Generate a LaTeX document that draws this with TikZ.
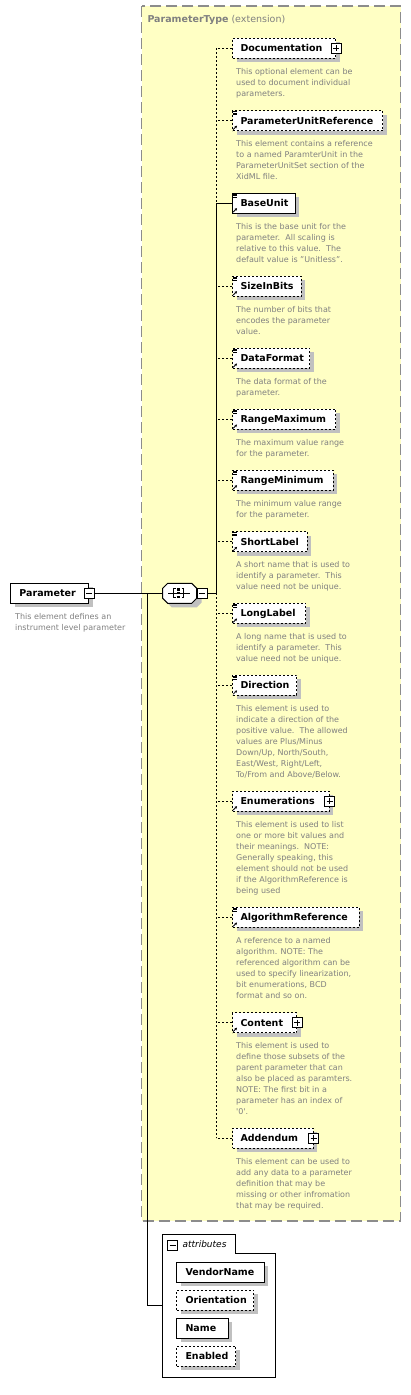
\documentclass[tikz,border=0pt]{standalone}
\usepackage{fontspec}
\setmainfont{DejaVu Sans}
\usetikzlibrary{shadows,arrows.meta}
\definecolor{ybg}{HTML}{FFFFC4}
\definecolor{shgray}{HTML}{C0C0C0}
\definecolor{txgray}{HTML}{808080}
\definecolor{bordergray}{HTML}{8C8C8C}
\newcommand\elfont{\fontsize{9.5}{11}\selectfont\bfseries}
\newcommand\descfont{\fontsize{8}{11}\selectfont}
\newcommand\tylines[1]{\draw[line width=0.6pt] ([shift={(1,1.4)}]#1.north west) -- ++(4,0) ([shift={(1,2.9)}]#1.north west) -- ++(4,0) ([shift={(1,4.4)}]#1.north west) -- ++(4,0);}
\newcommand\tyarrow[1]{\draw[line width=0.8pt,-{Stealth[length=2.4pt,width=2.6pt]}] ([shift={(1.2,-1.5)}]#1.south west) -- ++(3.8,-3.8);}
\tikzset{
 elbase/.style={draw=black, fill=white, line width=1pt, anchor=west, minimum height=20pt, inner xsep=8pt, inner ysep=0pt, text height=7pt, text depth=0pt, font=\elfont, align=left, general shadow={fill=shgray, shadow xshift=4pt, shadow yshift=-4pt}},
 reqel/.style={elbase},
 optel/.style={elbase, dash pattern=on 2pt off 2pt},
 desc/.style={anchor=north west, inner sep=0pt, align=left, text=txgray, font=\descfont},
 pmbox/.style={draw=black, fill=white, line width=0.8pt, minimum width=10pt, minimum height=10pt, inner sep=0pt, rectangle},
 plusicon/.style={pmbox, path picture={\draw[line width=0.8pt] ([yshift=-2pt]path picture bounding box.north) -- ([yshift=2pt]path picture bounding box.south) ([xshift=2pt]path picture bounding box.west) -- ([xshift=-2pt]path picture bounding box.east);}},
 minusicon/.style={pmbox, path picture={\draw[line width=0.8pt] ([xshift=2pt]path picture bounding box.west) -- ([xshift=-2pt]path picture bounding box.east);}},
 conn/.style={draw=black, line width=1pt},
 optconn/.style={conn, dash pattern=on 2pt off 2pt},
}
\begin{document}
\begin{tikzpicture}[x=1pt,y=-1pt]
\useasboundingbox (0,0) rectangle (411,1395);
% extension background
\draw[fill=ybg, draw=bordergray, line width=1.3pt, dash pattern=on 11pt off 5pt] (141.7,6) rectangle (400.5,1221);
\node[anchor=base west, inner sep=0pt, text=txgray, font=\fontsize{9.5}{11}\selectfont] (title) at (147.3,22.5) {\textbf{ParameterType} (extension)};

% Parameter element
\node[reqel, inner xsep=9pt, text width=60.3pt] (parm) at (10,593.3) {Parameter};
\node[minusicon] (parmM) at (parm.east) {};
\node[desc] (parmD) at ([shift={(5,9.5)}]parm.south west) {This element defines an\\instrument level parameter};

% sequence compositor
\node[minimum width=34pt, minimum height=20pt, inner sep=0pt] (seq) at (179.7,593.3) {};
\fill[shgray] (171.7,587.3) -- (196.7,587.3) -- (201.7,592.3) -- (201.7,602.3) -- (196.7,607.3) -- (171.7,607.3) -- (166.7,602.3) -- (166.7,592.3) -- cycle;
\draw[fill=white, line width=1pt] (167.7,583.3) -- (191.7,583.3) -- (196.7,588.3) -- (196.7,598.3) -- (191.7,603.3) -- (167.7,603.3) -- (162.7,598.3) -- (162.7,588.3) -- cycle;
\draw[line width=1pt] (168.3,593.3) -- (190,593.3);
\draw[line width=1pt] (175.5,588.8) -- (173.3,588.8) -- (173.3,597.8) -- (175.5,597.8);
\draw[line width=1pt] (181.5,588.8) -- (183.7,588.8) -- (183.7,597.8) -- (181.5,597.8);
\fill (177.4,588.4) rectangle (179.6,590.6);
\fill (177.4,592.2) rectangle (179.6,594.4);
\fill (177.4,596.0) rectangle (179.6,598.2);
\node[minusicon, anchor=west] (seqM) at (seq.east) {};
\coordinate (sp) at (216,593.3);
\coordinate (br) at (147,593.3);

% child elements
\node[optel, text width=87pt] (doc) at (232,48) {Documentation};
\node[plusicon] (docP) at (doc.east) {};
\node[desc] (docD) at ([shift={(4,9.5)}]doc.south west) {This optional element can be\\used to document individual\\parameters.};

\node[optel, text width=134pt] (pur) at (232,120.5) {ParameterUnitReference};
\tylines{pur}\tyarrow{pur}
\node[desc] (purD) at ([shift={(4,9.5)}]pur.south west) {This element contains a reference\\to a named ParamterUnit in the\\ParameterUnitSet section of the\\XidML file.};

\node[reqel, text width=46.7pt] (bu) at (232,203) {BaseUnit};
\tylines{bu}\tyarrow{bu}
\node[desc] (buD) at ([shift={(4,9.5)}]bu.south west) {This is the base unit for the\\parameter.\ \ All scaling is\\relative to this value.\ \ The\\default value is "Unitless".};

\node[optel, text width=52.7pt] (sib) at (232,286) {SizeInBits};
\tylines{sib}\tyarrow{sib}
\node[desc] (sibD) at ([shift={(4,9.5)}]sib.south west) {The number of bits that\\encodes the parameter\\value.};

\node[optel, text width=61pt] (df) at (232,358.3) {DataFormat};
\tylines{df}\tyarrow{df}
\node[desc] (dfD) at ([shift={(4,9.5)}]df.south west) {The data format of the\\parameter.};

\node[optel, text width=87pt] (rmax) at (232,419.3) {RangeMaximum};
\tylines{rmax}\tyarrow{rmax}
\node[desc] (rmaxD) at ([shift={(4,9.5)}]rmax.south west) {The maximum value range\\for the parameter.};

\node[optel, text width=84.7pt] (rmin) at (232,480) {RangeMinimum};
\tylines{rmin}\tyarrow{rmin}
\node[desc] (rminD) at ([shift={(4,9.5)}]rmin.south west) {The minimum value range\\for the parameter.};

\node[optel, text width=58.7pt] (sl) at (232,541.7) {ShortLabel};
\tylines{sl}\tyarrow{sl}
\node[desc] (slD) at ([shift={(4,9.5)}]sl.south west) {A short name that is used to\\identify a parameter.\ \ This\\value need not be unique.};

\node[optel, text width=57pt] (ll) at (232,613.3) {LongLabel};
\tylines{ll}\tyarrow{ll}
\node[desc] (llD) at ([shift={(4,9.5)}]ll.south west) {A long name that is used to\\identify a parameter.\ \ This\\value need not be unique.};

\node[optel, text width=48pt] (dir) at (232,685.2) {Direction};
\tylines{dir}\tyarrow{dir}
\node[desc] (dirD) at ([shift={(4,9.5)}]dir.south west) {This element is used to\\indicate a direction of the\\positive value.\ \ The allowed\\values are Plus/Minus\\Down/Up, North/South,\\East/West, Right/Left,\\To/From and Above/Below.};

\node[optel, text width=80.7pt] (enu) at (232,801) {Enumerations};
\tyarrow{enu}
\node[plusicon] (enuP) at (enu.east) {};
\node[desc] (enuD) at ([shift={(4,9.5)}]enu.south west) {This element is used to list\\one or more bit values and\\their meanings.\ \ NOTE:\\Generally speaking, this\\element should not be used\\if the AlgorithmReference is\\being used};

\node[optel, text width=110.7pt] (alg) at (232,917.3) {AlgorithmReference};
\tylines{alg}\tyarrow{alg}
\node[desc] (algD) at ([shift={(4,9.5)}]alg.south west) {A reference to a named\\algorithm. NOTE: The\\referenced algorithm can be\\used to specify linearization,\\bit enumerations, BCD\\format and so on.};

\node[optel, text width=48pt] (con) at (232,1022.5) {Content};
\tyarrow{con}
\node[plusicon] (conP) at (con.east) {};
\node[desc] (conD) at ([shift={(4,9.5)}]con.south west) {This element is used to\\define those subsets of the\\parent parameter that can\\also be placed as paramters.\\NOTE: The first bit in a\\parameter has an index of\\\textquotesingle0\textquotesingle.};

\node[optel, text width=64.7pt] (add) at (232,1138) {Addendum};
\node[plusicon] (addP) at (add.east) {};
\node[desc] (addD) at ([shift={(4,9.5)}]add.south west) {This element can be used to\\add any data to a parameter\\definition that may be\\missing or other infromation\\that may be required.};

% attributes group
\draw[fill=white, line width=1pt] (162.3,1234.3) -- (235.3,1234.3) -- (235.3,1253.3) -- (275.3,1253.3) -- (275.3,1377.3) -- (162.3,1377.3) -- cycle;
\coordinate (attrL) at (162.3,1305.8);
\node[minusicon] (attrM) at (172.5,1245) {};
\node[anchor=base west, inner sep=0pt, font=\fontsize{9}{11}\selectfont\itshape] (attrT) at (182.3,1247.8) {attributes};
\node[reqel, inner xsep=9pt, text width=69.7pt] (vn) at (176,1272.3) {VendorName};
\node[optel, inner xsep=9pt, text width=59pt] (ori) at (176,1300.3) {Orientation};
\node[reqel, inner xsep=9pt, text width=33.7pt] (nm) at (176,1328.3) {Name};
\node[optel, inner xsep=9pt, text width=41pt] (en) at (176,1356.3) {Enabled};

% connectors
\draw[conn] (parmM.east) -- (seq.west);
\draw[conn] (seqM.east) -- (sp);
\draw[conn] (br) |- (attrL);
\draw[optconn] (doc.west -| sp) -- (bu.west -| sp);
\draw[conn] (bu.west -| sp) -- (sp);
\draw[optconn] (sp) -- (add.west -| sp);
\draw[conn] (bu.west) -- (bu.west -| sp);
\foreach \n in {doc,pur,sib,df,rmax,rmin,sl,ll,dir,enu,alg,con,add}
  \draw[optconn] (\n.west) -- (\n.west -| sp);
\end{tikzpicture}
\end{document}
